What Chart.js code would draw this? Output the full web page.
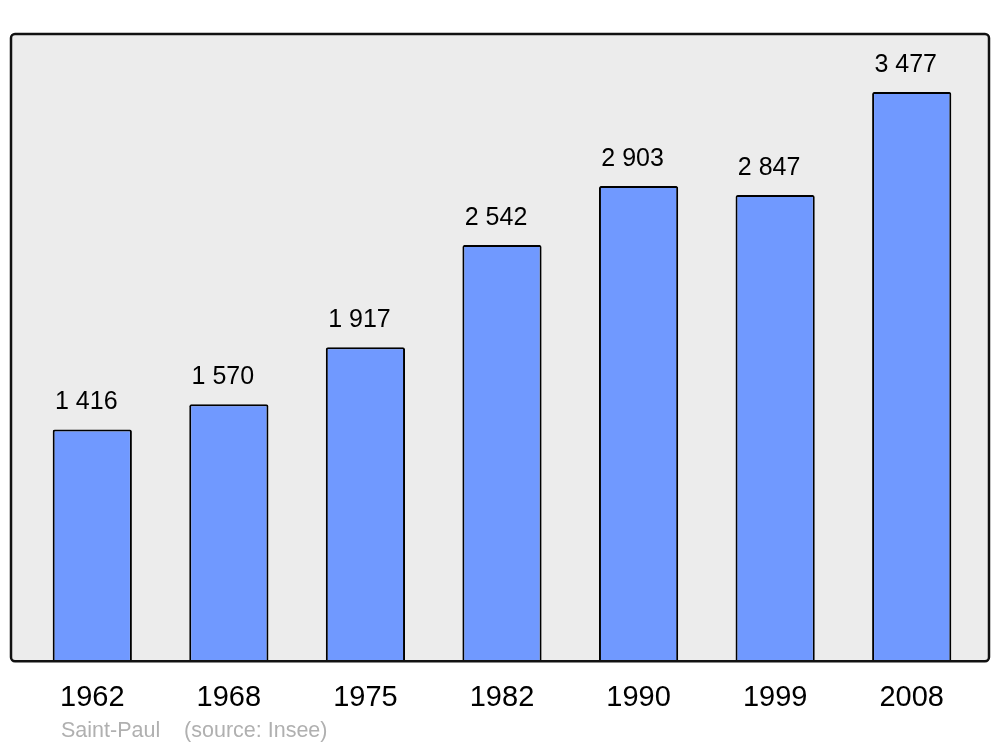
<!DOCTYPE html>
<html>
<head>
<meta charset="utf-8">
<script src="https://cdn.jsdelivr.net/npm/chart.js@4"></script>
<style>
  body { margin: 0; background: #fff; }
  #wrap { width: 1000px; height: 747px; position: relative; }
</style>
</head>
<body>
<div id="wrap"><canvas id="popChart"></canvas></div>
<script>
const years = ["1962", "1968", "1975", "1982", "1990", "1999", "2008"];
const population = [1416, 1570, 1917, 2542, 2903, 2847, 3477];
const yMax = 3831;
const footerText = "Saint-Paul    (source: Insee)";

function fmt(n) {
  return String(n).replace(/\B(?=(\d{3})+(?!\d))/g, " ");
}

// grey rounded panel behind the bars
const panelPlugin = {
  id: 'panel',
  beforeDatasetsDraw(chart) {
    const { ctx, chartArea } = chart;
    const x = chartArea.left - 13, y = chartArea.top;
    const w = chartArea.right + 9 - x, h = chartArea.bottom - y;
    ctx.save();
    ctx.beginPath();
    ctx.roundRect(x, y, w, h, 4);
    ctx.fillStyle = '#ececec';
    ctx.fill();
    ctx.restore();
  },
  afterDatasetsDraw(chart) {
    const { ctx, chartArea } = chart;
    const x = chartArea.left - 13, y = chartArea.top;
    const w = chartArea.right + 9 - x, h = chartArea.bottom - y;
    ctx.save();
    ctx.beginPath();
    ctx.roundRect(x, y, w, h, 4);
    ctx.lineWidth = 2.5;
    ctx.strokeStyle = '#111';
    ctx.stroke();

    // value labels above bars
    ctx.font = '25px "Liberation Sans", Arial, sans-serif';
    ctx.fillStyle = '#000';
    ctx.textAlign = 'center';
    ctx.textBaseline = 'middle';
    chart.getDatasetMeta(0).data.forEach((bar, i) => {
      ctx.fillText(fmt(population[i]), bar.x - 6, bar.y - 27);
    });

    // source line
    ctx.font = '21.5px "Liberation Sans", Arial, sans-serif';
    ctx.fillStyle = '#b0b0b0';
    ctx.textAlign = 'left';
    ctx.fillText(footerText, 61, chartArea.bottom + 70);
    ctx.restore();
  }
};

new Chart('popChart', {
  type: 'bar',
  data: {
    labels: years,
    datasets: [{
      data: population,
      backgroundColor: '#7099ff',
      borderColor: '#000',
      borderWidth: 2,
      borderSkipped: 'bottom',
      borderRadius: { topLeft: 2, topRight: 2 },
      categoryPercentage: 1,
      barPercentage: 0.58
    }]
  },
  options: {
    responsive: true,
    maintainAspectRatio: false,
    animation: false,
    layout: { padding: { left: 24, right: 20, top: 34, bottom: 21 } },
    plugins: { legend: { display: false }, tooltip: { enabled: false } },
    scales: {
      x: {
        grid: { display: false },
        border: { display: false },
        ticks: {
          color: '#000',
          padding: 11,
          font: { family: '"Liberation Sans", Arial, sans-serif', size: 29 }
        }
      },
      y: {
        display: false,
        min: 0,
        max: yMax
      }
    }
  },
  plugins: [panelPlugin]
});
</script>
</body>
</html>
